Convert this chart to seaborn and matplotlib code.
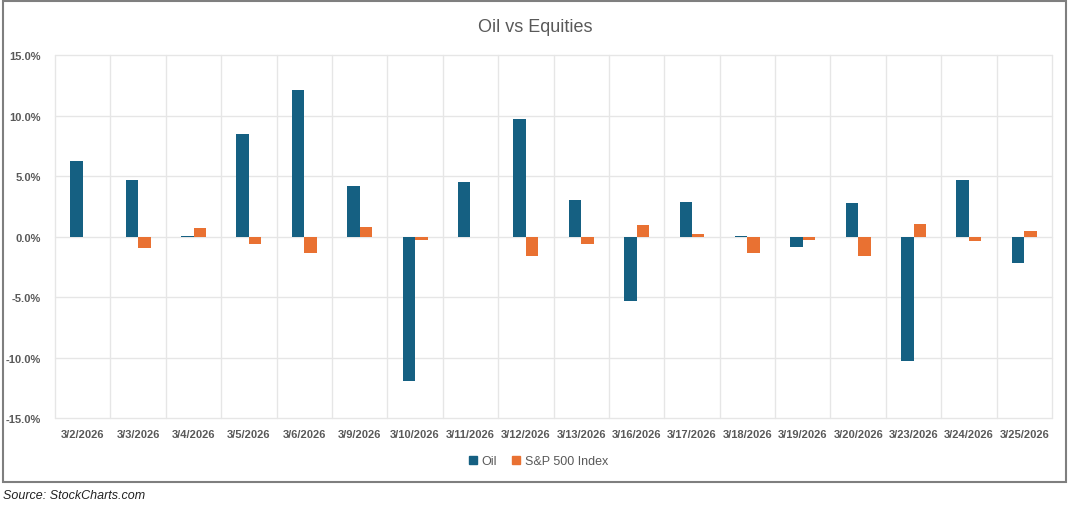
import pandas as pd
import seaborn as sns
import matplotlib.pyplot as plt
from matplotlib.patches import Rectangle
from matplotlib.ticker import FuncFormatter, FixedLocator

# -------------------------
# data (daily % change)
# -------------------------
dates = ["3/2/2026", "3/3/2026", "3/4/2026", "3/5/2026", "3/6/2026", "3/9/2026",
         "3/10/2026", "3/11/2026", "3/12/2026", "3/13/2026", "3/16/2026", "3/17/2026",
         "3/18/2026", "3/19/2026", "3/20/2026", "3/23/2026", "3/24/2026", "3/25/2026"]
oil = [6.23, 4.63, 0.05, 8.48, 12.12, 4.19,
       -11.96, 4.52, 9.70, 3.03, -5.34, 2.87,
       0.05, -0.83, 2.73, -10.30, 4.71, -2.23]
spx = [0.0, -0.96, 0.72, -0.58, -1.38, 0.80,
       -0.25, -0.08, -1.57, -0.63, 0.94, 0.22,
       -1.35, -0.30, -1.57, 1.07, -0.41, 0.47]
series = ["Oil", "S&P 500 Index"]
colors = ["#156082", "#E97132"]

df = pd.DataFrame({
    "date": dates * 2,
    "value": oil + spx,
    "series": [series[0]] * len(dates) + [series[1]] * len(dates),
})

sns.set_theme(style="white")
plt.rcParams["font.family"] = ["Liberation Sans Narrow", "Liberation Sans", "DejaVu Sans"]
grey = "#595959"

fig = plt.figure(figsize=(10.71, 5.10), dpi=100)
ax = fig.add_axes([0.0514, 0.1784, 0.9309, 0.7118])

sns.barplot(data=df, x="date", y="value", hue="series", palette=colors,
            width=0.45, dodge=True, ax=ax, legend=False, zorder=3,
            saturation=1, edgecolor="none")

ax.set_xlim(-0.5, len(dates) - 0.5)
ax.set_ylim(-15, 15)
ax.set_yticks([-15, -10, -5, 0, 5, 10, 15])
ax.yaxis.set_major_formatter(FuncFormatter(lambda v, p: f"{v:.1f}%"))
ax.xaxis.set_minor_locator(FixedLocator([i - 0.5 for i in range(len(dates) + 1)]))
ax.grid(True, axis="y", which="major", color="#e6e6e6", linewidth=1.0, zorder=0)
ax.grid(True, axis="x", which="minor", color="#e6e6e6", linewidth=1.0, zorder=0)
ax.grid(False, axis="x", which="major")
for t in ax.yaxis.get_major_ticks() + ax.xaxis.get_minor_ticks():
    t.gridline.set_clip_on(False)
ax.tick_params(axis="both", which="both", length=0)
ax.tick_params(axis="y", pad=10)
ax.tick_params(axis="x", pad=8)
for lab in ax.get_xticklabels() + ax.get_yticklabels():
    lab.set_fontfamily(["Liberation Sans", "DejaVu Sans"])
    lab.set_fontsize(8)
    lab.set_fontweight("bold")
    lab.set_color(grey)
for s in ax.spines.values():
    s.set_visible(False)
ax.set_xlabel("")
ax.set_ylabel("")

fig.text(0.5, 0.947, "Oil vs Equities", ha="center", va="center",
         fontsize=13, color=grey)

# legend
handles = [Rectangle((0, 0), 1, 1, color=c) for c in colors]
fig.legend(handles, series, loc="center", bbox_to_anchor=(0.503, 0.094),
           ncol=2, frameon=False, fontsize=9, handlelength=0.6, handleheight=0.6,
           handletextpad=0.4, columnspacing=1.2, labelcolor=grey)

# chart border and source
fig.patches.append(Rectangle((3 / 1071, 1 - 483 / 510), 1063 / 1071, 481 / 510,
                             transform=fig.transFigure, fill=False,
                             edgecolor="#7f7f7f", linewidth=1.5))
fig.text(0.003, 0.027, "Source: StockCharts.com", ha="left", va="center",
         fontsize=9, style="italic", color="#222222",
         family=["Liberation Sans", "DejaVu Sans"])

fig.savefig("out.png", dpi=100)
